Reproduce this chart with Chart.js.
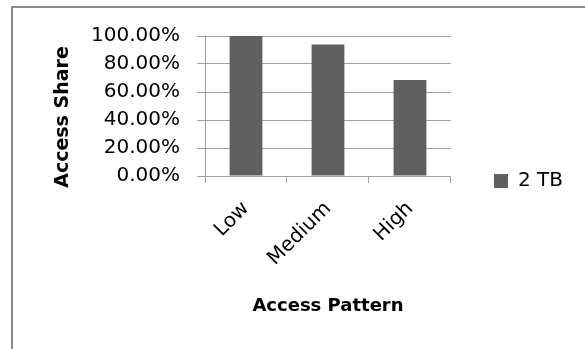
<!DOCTYPE html>
<html>
<head>
<meta charset="utf-8">
<title>Access Share by Access Pattern</title>
<script src="https://cdn.jsdelivr.net/npm/chart.js@4/dist/chart.umd.min.js"></script>
<style>
  html, body { margin: 0; padding: 0; background: #fff; overflow: hidden; width: 585px; height: 349px; }
  #frame {
    position: absolute; left: 11px; top: 6px; width: 700px; height: 400px;
    border-left: 2px solid #8a8a8a; border-top: 2px solid #8a8a8a;
  }
  #chart { position: absolute; left: 0; top: 0; }
</style>
</head>
<body>
<div id="frame"></div>
<canvas id="chart" width="585" height="349"></canvas>
<script>
// Data
const categories = ['Low', 'Medium', 'High'];
const seriesName = '2 TB';
const shares = [1.00, 0.94, 0.685];
const yTickLabels = ['0.00%', '20.00%', '40.00%', '60.00%', '80.00%', '100.00%'];
const xTitle = 'Access Pattern';
const yTitle = 'Access Share';

const GRID = '#a0a0a0';
const BAR = '#606060';
const FONT = "'DejaVu Sans', sans-serif";

// Vertical axis title, centred a little below the middle of the plot
const sideTitle = {
  id: 'sideTitle',
  afterDraw(chart) {
    const ctx = chart.ctx;
    ctx.save();
    ctx.translate(63, 117);
    ctx.rotate(-Math.PI / 2);
    ctx.font = "bold 19px " + FONT;
    ctx.fillStyle = '#000';
    ctx.textAlign = 'center';
    ctx.textBaseline = 'middle';
    ctx.fillText(yTitle, 0, 0);
    ctx.restore();
  }
};

new Chart(document.getElementById('chart'), {
  type: 'bar',
  data: {
    labels: categories,
    datasets: [{
      label: seriesName,
      data: shares,
      backgroundColor: BAR,
      borderWidth: 0,
      categoryPercentage: 1,
      barPercentage: 0.4
    }]
  },
  options: {
    responsive: false,
    animation: false,
    devicePixelRatio: 1,
    layout: { padding: { left: 0, right: 12, top: 36, bottom: 23 } },
    font: { family: FONT },
    plugins: {
      tooltip: { enabled: false },
      legend: {
        position: 'right',
        align: 'center',
        labels: {
          boxWidth: 14,
          boxHeight: 14,
          padding: 43,
          color: '#000',
          font: { family: FONT, size: 20 }
        }
      }
    },
    scales: {
      x: {
        grid: { display: true, drawOnChartArea: false, drawTicks: true, tickLength: 7, color: GRID, offset: true },
        border: { display: true, color: GRID },
        ticks: {
          minRotation: 45, maxRotation: 45, padding: 14,
          color: '#000', font: { family: FONT, size: 20 }
        },
        title: {
          display: true, text: xTitle, color: '#000',
          font: { family: FONT, size: 18, weight: 'bold' },
          padding: { top: 4, bottom: 9 }
        },
        afterFit(scale) { scale.height = 150; }
      },
      y: {
        min: 0, max: 1,
        grid: { color: GRID, tickLength: 8, drawTicks: true },
        border: { display: true, color: GRID },
        ticks: {
          stepSize: 0.2, padding: 17, color: '#000',
          font: { family: FONT, size: 20 },
          callback: (v, i) => yTickLabels[i]
        },
        afterFit(scale) { scale.width = 205; }
      }
    }
  },
  plugins: [sideTitle]
});
</script>
</body>
</html>
